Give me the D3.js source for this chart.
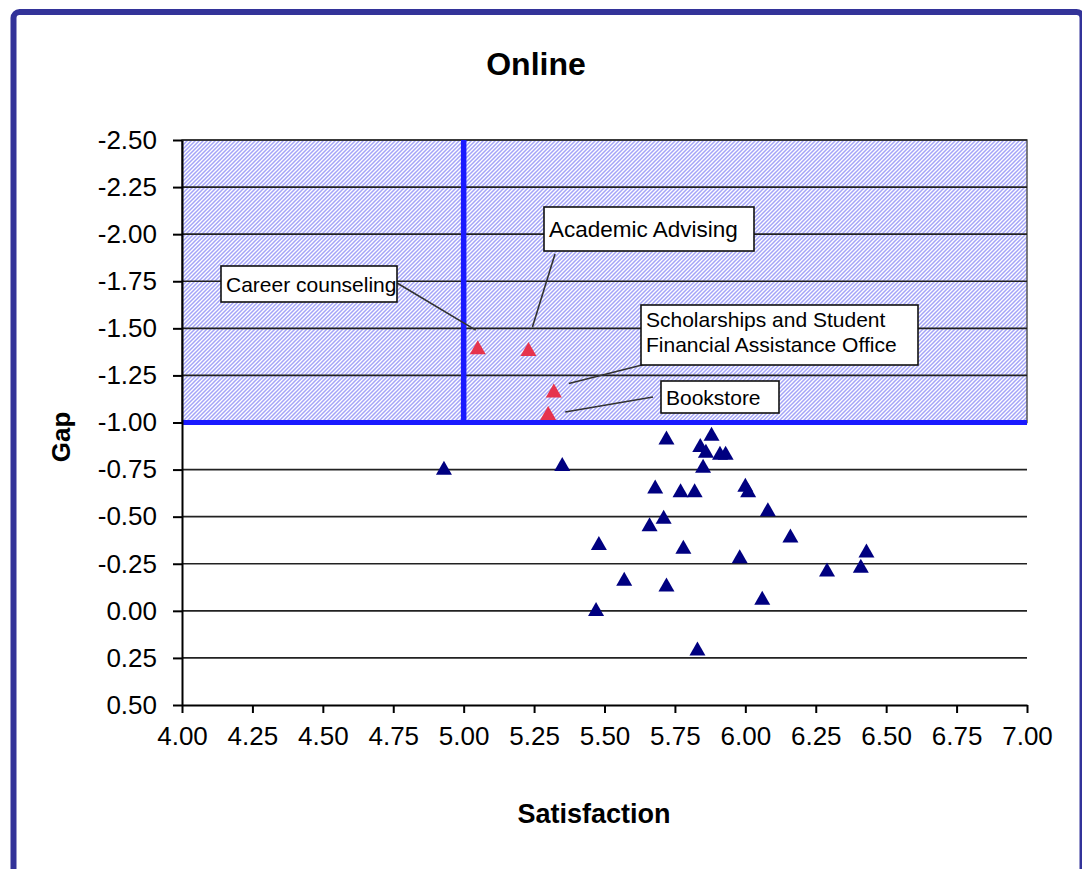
<!DOCTYPE html>
<html>
<head>
<meta charset="utf-8">
<title>Online</title>
<script src="https://cdn.jsdelivr.net/npm/d3@7"></script>
<style>
  html, body { margin: 0; padding: 0; background: #ffffff; }
  svg { display: block; }
  text { font-family: "Liberation Sans", Arial, sans-serif; fill: #000; }
</style>
</head>
<body>
<script>
// ---- Data ----------------------------------------------------------------
// Services flagged as priorities (gap <= -1.00), labelled with callouts
const priorityNames = [
  "Career counseling",
  "Academic Advising",
  "Scholarships and Student Financial Assistance Office",
  "Bookstore"
];
const prioritySatisfaction = [5.05, 5.23, 5.32, 5.30];
const priorityGap = [-1.40, -1.39, -1.17, -1.05];

// All other services
const otherSatisfaction = [
  4.93, 5.35, 5.72, 5.88, 5.84, 5.86, 5.91, 5.93, 5.85, 5.68,
  5.77, 5.82, 6.00, 6.01, 6.08, 5.71, 5.66, 5.48, 5.78, 6.16,
  5.98, 6.43, 6.29, 6.41, 5.57, 5.72, 6.06, 5.47, 5.83
];
const otherGap = [
  -0.76, -0.78, -0.92, -0.94, -0.88, -0.85, -0.84, -0.84, -0.77, -0.66,
  -0.64, -0.64, -0.67, -0.64, -0.54, -0.50, -0.46, -0.36, -0.34, -0.40,
  -0.29, -0.32, -0.22, -0.24, -0.17, -0.14, -0.07, -0.01, 0.20
];

// Thresholds for the priority quadrant
const satisfactionThreshold = 5.00;
const gapThreshold = -1.00;

// Axis ticks
const xTickValues = [4.00, 4.25, 4.50, 4.75, 5.00, 5.25, 5.50, 5.75, 6.00, 6.25, 6.50, 6.75, 7.00];
const yTickValues = [-2.50, -2.25, -2.00, -1.75, -1.50, -1.25, -1.00, -0.75, -0.50, -0.25, 0.00, 0.25, 0.50];

const chartTitle = "Online";
const xTitle = "Satisfaction";
const yTitle = "Gap";

// ---- Layout --------------------------------------------------------------
const W = 1082, H = 869;
const plot = { left: 182, top: 140, right: 1027, bottom: 705 };

// Callout boxes (pixel layout) and where each leader line leaves the box
const calloutLayout = [
  { x: 221, y: 266, w: 176, h: 36, size: 21, lineFrom: [397, 283], tip: [-2, -17] },
  { x: 544, y: 207, w: 210, h: 44, size: 22.5, lineFrom: [555, 254], tip: [4, -22] },
  { x: 641, y: 305, w: 277, h: 60, size: 21, lineFrom: [650, 363], tip: [15, -7] },
  { x: 661, y: 381, w: 118, h: 32, size: 21, lineFrom: [653, 397], tip: [17, -1] }
];
const calloutLines = [
  ["Career counseling"],
  ["Academic Advising"],
  ["Scholarships and Student", "Financial Assistance Office"],
  ["Bookstore"]
];

const svg = d3.select("body").append("svg")
  .attr("width", W)
  .attr("height", H);

const x = d3.scaleLinear().domain([4, 7]).range([plot.left, plot.right]);
const y = d3.scaleLinear().domain([-2.5, 0.5]).range([plot.top, plot.bottom]);

// Upward-diagonal hatch for the priority region
const defs = svg.append("defs");
const pat = defs.append("pattern")
  .attr("id", "hatch")
  .attr("patternUnits", "userSpaceOnUse")
  .attr("width", 4)
  .attr("height", 4);
pat.append("rect").attr("width", 4).attr("height", 4).attr("fill", "#ffffff");
pat.append("path")
  .attr("d", "M-1,1L1,-1M0,4L4,0M3,5L5,3")
  .attr("stroke", "#a4a4f8")
  .attr("stroke-width", 1.5);

// Outer frame
svg.append("rect")
  .attr("x", 13.5).attr("y", 12)
  .attr("width", 1069).attr("height", 900)
  .attr("rx", 6)
  .attr("fill", "none")
  .attr("stroke", "#333399")
  .attr("stroke-width", 6);

// Priority region: satisfaction 4–7, gap below threshold
svg.append("rect")
  .attr("x", x(4))
  .attr("y", y(-2.5))
  .attr("width", x(7) - x(4))
  .attr("height", y(gapThreshold) - y(-2.5))
  .attr("fill", "url(#hatch)")
  .attr("stroke", "#555")
  .attr("stroke-width", 1.5);

// Horizontal gridlines
svg.append("g")
  .selectAll("line")
  .data(yTickValues.filter(v => v < 0.5))
  .join("line")
  .attr("x1", x(4)).attr("x2", x(7))
  .attr("y1", d => y(d)).attr("y2", d => y(d))
  .attr("stroke", "#222")
  .attr("stroke-width", 1.6);

// Threshold lines
svg.append("line")
  .attr("x1", x(satisfactionThreshold)).attr("x2", x(satisfactionThreshold))
  .attr("y1", y(-2.5)).attr("y2", y(gapThreshold))
  .attr("stroke", "#1a1aff")
  .attr("stroke-width", 5.5);
svg.append("line")
  .attr("x1", x(4)).attr("x2", x(7))
  .attr("y1", y(gapThreshold)).attr("y2", y(gapThreshold))
  .attr("stroke", "#1a1aff")
  .attr("stroke-width", 5);

// Axes
const fmt = d => d.toFixed(2);
const xAxis = svg.append("g")
  .attr("transform", `translate(0,${plot.bottom})`)
  .call(d3.axisBottom(x).tickValues(xTickValues).tickFormat(fmt)
    .tickSize(8).tickSizeOuter(0).tickPadding(14));
const yAxis = svg.append("g")
  .attr("transform", `translate(${plot.left},0)`)
  .call(d3.axisLeft(y).tickValues(yTickValues).tickFormat(fmt)
    .tickSize(9).tickSizeOuter(0).tickPadding(16));
[xAxis, yAxis].forEach(g => {
  g.select(".domain").attr("stroke", "#000").attr("stroke-width", 2);
  g.selectAll(".tick line").attr("stroke", "#000").attr("stroke-width", 2);
  g.selectAll(".tick text")
    .attr("font-family", "'Liberation Sans', Arial, sans-serif")
    .attr("font-size", 26)
    .attr("fill", "#000");
});

// Titles
svg.append("text")
  .attr("x", 536).attr("y", 75)
  .attr("text-anchor", "middle")
  .attr("font-size", 32).attr("font-weight", "bold")
  .text(chartTitle);
svg.append("text")
  .attr("x", 594).attr("y", 823)
  .attr("text-anchor", "middle")
  .attr("font-size", 27).attr("font-weight", "bold")
  .text(xTitle);
svg.append("text")
  .attr("transform", "translate(70,437) rotate(-90)")
  .attr("text-anchor", "middle")
  .attr("font-size", 26).attr("font-weight", "bold")
  .text(yTitle);

// Callouts with leader lines
const priority = priorityNames.map((name, i) => ({
  name, sat: prioritySatisfaction[i], gap: priorityGap[i],
  layout: calloutLayout[i], lines: calloutLines[i]
}));

const callouts = svg.append("g");
callouts.selectAll("line")
  .data(priority)
  .join("line")
  .attr("x1", d => d.layout.lineFrom[0])
  .attr("y1", d => d.layout.lineFrom[1])
  .attr("x2", d => x(d.sat) + d.layout.tip[0])
  .attr("y2", d => y(d.gap) + d.layout.tip[1])
  .attr("stroke", "#333")
  .attr("stroke-width", 1.6);

const boxes = callouts.selectAll("g.box")
  .data(priority)
  .join("g")
  .attr("class", "box");
boxes.append("rect")
  .attr("x", d => d.layout.x)
  .attr("y", d => d.layout.y)
  .attr("width", d => d.layout.w)
  .attr("height", d => d.layout.h)
  .attr("fill", "#fff")
  .attr("stroke", "#111")
  .attr("stroke-width", 1.6);
boxes.append("text")
  .attr("font-size", d => d.layout.size)
  .each(function (d) {
    const t = d3.select(this);
    const single = d.lines.length === 1;
    d.lines.forEach((ln, k) => {
      t.append("tspan")
        .attr("x", d.layout.x + 5)
        .attr("y", single
          ? d.layout.y + d.layout.h / 2 + 7.5
          : d.layout.y + 22 + k * 25)
        .text(ln);
    });
  });

// Markers: upward triangles
const tri = (w, h) => `M0,${-h / 2}L${w / 2},${h / 2}L${-w / 2},${h / 2}Z`;

svg.append("g")
  .selectAll("path")
  .data(otherSatisfaction.map((s, i) => ({ sat: s, gap: otherGap[i] })))
  .join("path")
  .attr("d", tri(16, 14))
  .attr("transform", d => `translate(${x(d.sat)},${y(d.gap)})`)
  .attr("fill", "#000080");

svg.append("g")
  .selectAll("path")
  .data(priority)
  .join("path")
  .attr("d", tri(16, 14))
  .attr("transform", d => `translate(${x(d.sat)},${y(d.gap)})`)
  .attr("fill", "#e6334d");
</script>
</body>
</html>
